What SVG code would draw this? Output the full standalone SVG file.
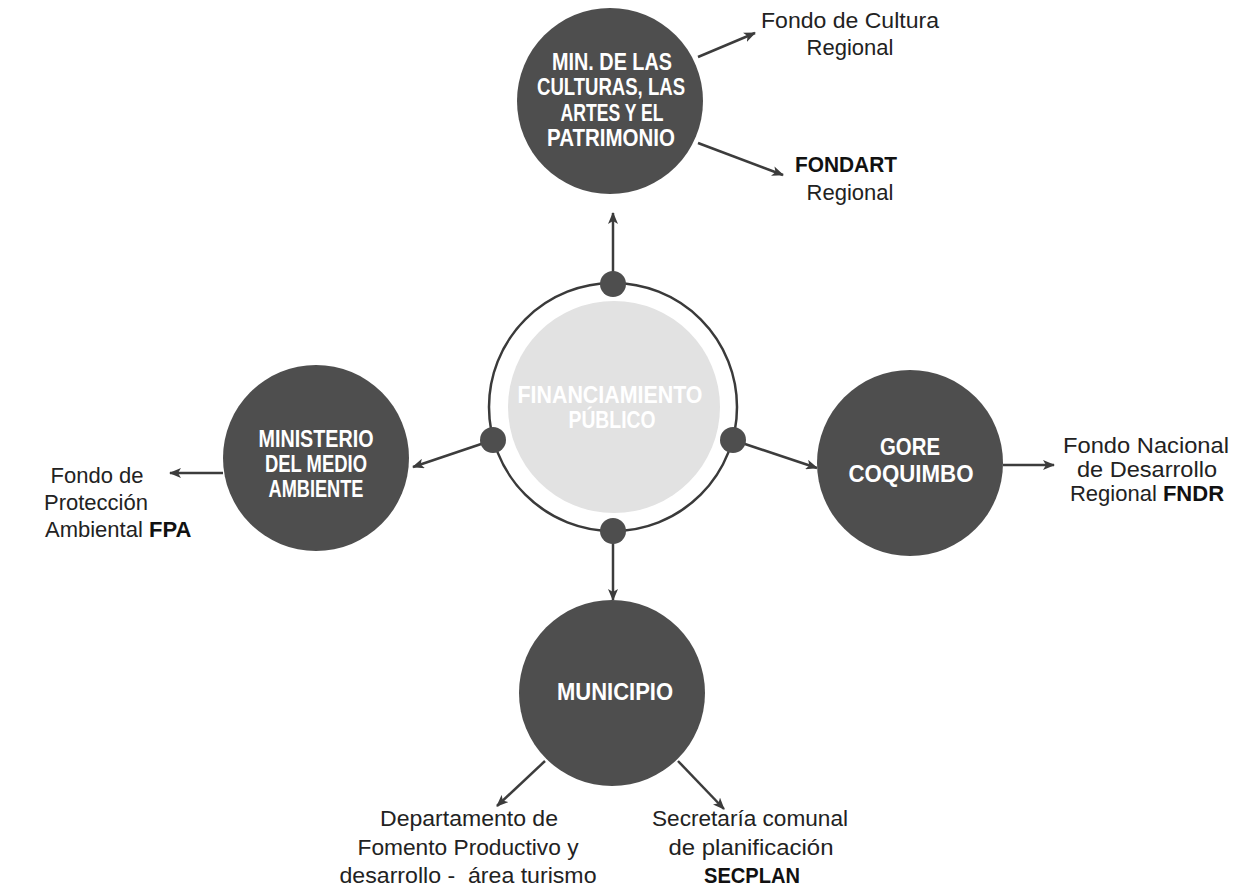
<svg xmlns="http://www.w3.org/2000/svg" width="1234" height="893" viewBox="0 0 1234 893">
<style>
.node{fill:#4e4e4e}
.dot{fill:#4e4e4e}
.nt{font-family:"Liberation Sans",Arial,sans-serif;font-size:23px;font-weight:bold;fill:#ffffff;text-anchor:middle}
.lb{font-family:"Liberation Sans",Arial,sans-serif;font-size:22px;fill:#222222;text-anchor:middle}
.lbs{font-family:"Liberation Sans",Arial,sans-serif;font-size:22px;fill:#222222}
.b{font-weight:bold;fill:#111111}
.con{stroke:#3c3c3c;stroke-width:2.5;fill:none;marker-end:url(#ah)}
</style>
<defs>
<marker id="ah" markerUnits="userSpaceOnUse" markerWidth="12" markerHeight="10" refX="11" refY="5" orient="auto">
<path d="M0,0 L12,5 L0,10 L3,5 z" fill="#3c3c3c"/>
</marker>
</defs>
<rect width="1234" height="893" fill="#ffffff"/>

<g id="center">
<circle cx="613" cy="407" r="124" fill="none" stroke="#3a3a3a" stroke-width="2.5"/>
<circle cx="614" cy="407" r="106" fill="#e2e2e2"/>
<text class="nt" x="610" y="403" textLength="185" lengthAdjust="spacingAndGlyphs">FINANCIAMIENTO</text>
<text class="nt" x="612" y="428" textLength="87" lengthAdjust="spacingAndGlyphs">PÚBLICO</text>
</g>

<g id="connectors">
<line class="con" x1="613" y1="272" x2="613" y2="213"/>
<line class="con" x1="493" y1="440" x2="413" y2="467"/>
<line class="con" x1="733" y1="440" x2="817" y2="468"/>
<line class="con" x1="613" y1="540" x2="613" y2="600"/>
<line class="con" x1="698" y1="57" x2="755" y2="33"/>
<line class="con" x1="698" y1="143" x2="783" y2="175"/>
<line class="con" x1="223" y1="473" x2="170" y2="473"/>
<line class="con" x1="1003" y1="465" x2="1054" y2="465"/>
<line class="con" x1="545" y1="761" x2="497" y2="806"/>
<line class="con" x1="678" y1="761" x2="724" y2="809"/>
</g>

<g id="dots">
<circle class="dot" cx="613" cy="284" r="13"/>
<circle class="dot" cx="493" cy="440" r="13"/>
<circle class="dot" cx="733" cy="440" r="13"/>
<circle class="dot" cx="613" cy="531" r="13"/>
</g>

<g id="node-min-culturas">
<circle class="node" cx="610" cy="101" r="93"/>
<text class="nt" x="612" y="70" textLength="120" lengthAdjust="spacingAndGlyphs">MIN. DE LAS</text>
<text class="nt" x="611" y="95" textLength="148" lengthAdjust="spacingAndGlyphs">CULTURAS, LAS</text>
<text class="nt" x="612" y="121" textLength="103" lengthAdjust="spacingAndGlyphs">ARTES Y EL</text>
<text class="nt" x="611" y="146" textLength="128" lengthAdjust="spacingAndGlyphs">PATRIMONIO</text>
</g>

<g id="node-medio-ambiente">
<circle class="node" cx="316" cy="458" r="93"/>
<text class="nt" x="316" y="447" textLength="115" lengthAdjust="spacingAndGlyphs">MINISTERIO</text>
<text class="nt" x="316" y="472" textLength="102" lengthAdjust="spacingAndGlyphs">DEL MEDIO</text>
<text class="nt" x="316" y="497" textLength="95" lengthAdjust="spacingAndGlyphs">AMBIENTE</text>
</g>

<g id="node-gore">
<circle class="node" cx="910" cy="463" r="93"/>
<text class="nt" x="910" y="455" textLength="60" lengthAdjust="spacingAndGlyphs">GORE</text>
<text class="nt" x="911" y="482" textLength="125" lengthAdjust="spacingAndGlyphs">COQUIMBO</text>
</g>

<g id="node-municipio">
<circle class="node" cx="612" cy="693" r="93"/>
<text class="nt" x="615" y="700" textLength="116" lengthAdjust="spacingAndGlyphs">MUNICIPIO</text>
</g>

<g id="label-fondo-cultura">
<text class="lb" x="850" y="28" textLength="178" lengthAdjust="spacingAndGlyphs">Fondo de Cultura</text>
<text class="lb" x="850" y="55">Regional</text>
</g>

<g id="label-fondart">
<text class="lb b" x="846" y="172" textLength="102" lengthAdjust="spacingAndGlyphs">FONDART</text>
<text class="lb" x="850" y="200">Regional</text>
</g>

<g id="label-fpa">
<text class="lb" x="97" y="483">Fondo de</text>
<text class="lb" x="96" y="510">Protección</text>
<text class="lbs" x="45" y="537">Ambiental <tspan class="b">FPA</tspan></text>
</g>

<g id="label-fndr">
<text class="lb" x="1146" y="453" textLength="166" lengthAdjust="spacingAndGlyphs">Fondo Nacional</text>
<text class="lb" x="1147" y="477" textLength="140" lengthAdjust="spacingAndGlyphs">de Desarrollo</text>
<text class="lb" x="1147" y="501">Regional <tspan class="b">FNDR</tspan></text>
</g>

<g id="label-fomento">
<text class="lb" x="469" y="826" textLength="178" lengthAdjust="spacingAndGlyphs">Departamento de</text>
<text class="lb" x="468" y="855" textLength="221" lengthAdjust="spacingAndGlyphs">Fomento Productivo y</text>
<text class="lb" x="468" y="883" textLength="257" lengthAdjust="spacingAndGlyphs" xml:space="preserve">desarrollo -  área turismo</text>
</g>

<g id="label-secplan">
<text class="lb" x="750" y="826" textLength="196" lengthAdjust="spacingAndGlyphs">Secretaría comunal</text>
<text class="lb" x="751" y="855" textLength="165" lengthAdjust="spacingAndGlyphs">de planificación</text>
<text class="lb b" x="752" y="883" textLength="96" lengthAdjust="spacingAndGlyphs">SECPLAN</text>
</g>
</svg>
